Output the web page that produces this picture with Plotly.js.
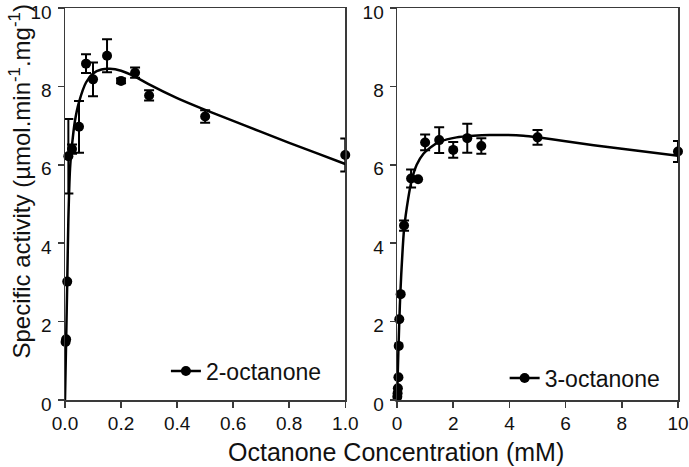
<!DOCTYPE html>
<html>
<head>
<meta charset="utf-8">
<script src="https://cdn.plot.ly/plotly-3.0.1.min.js"></script>
<style>html,body{margin:0;padding:0;background:#fff;}#chart{width:689px;height:467px;}</style>
</head>
<body>
<div id="chart"></div>
<script>
// ---- 2-octanone (left panel) measured points ----
const conc2 = [0.002, 0.004, 0.008, 0.012, 0.025, 0.05, 0.075, 0.1, 0.15, 0.2, 0.25, 0.3, 0.5, 1.0];
const act2  = [1.48, 1.55, 3.02, 6.22, 6.40, 6.97, 8.58, 8.18, 8.78, 8.14, 8.35, 7.77, 7.23, 6.25];
const err2  = [0, 0, 0, 0.95, 0.12, 0.66, 0.24, 0.43, 0.42, 0.06, 0.13, 0.13, 0.16, 0.42];
// fitted curve
const fit2x = [0, 0.004, 0.008, 0.012, 0.018, 0.025, 0.035, 0.05, 0.075, 0.1, 0.13, 0.16, 0.2, 0.25, 0.3, 0.4, 0.5, 0.6, 0.7, 0.8, 0.9, 1.0];
const fit2y = [0, 1.5, 3.0, 4.6, 5.9, 6.5, 7.1, 7.6, 8.1, 8.33, 8.43, 8.45, 8.4, 8.25, 8.05, 7.7, 7.4, 7.12, 6.84, 6.56, 6.29, 6.02];

// ---- 3-octanone (right panel) measured points ----
const conc3 = [0.01, 0.02, 0.03, 0.05, 0.06, 0.08, 0.13, 0.25, 0.5, 0.75, 1, 1.5, 2, 2.5, 3, 5, 10];
const act3  = [0.08, 0.17, 0.3, 0.58, 1.38, 2.06, 2.7, 4.45, 5.65, 5.63, 6.57, 6.63, 6.38, 6.68, 6.48, 6.70, 6.34];
const err3  = [0, 0, 0, 0, 0, 0, 0, 0.13, 0.23, 0, 0.2, 0.33, 0.2, 0.37, 0.2, 0.19, 0.27];
const fit3x = [0, 0.05, 0.1, 0.15, 0.25, 0.4, 0.52, 0.7, 0.94, 1.2, 1.53, 2.12, 2.72, 3.3, 3.9, 4.5, 5.0, 6.0, 7.0, 8.0, 9.0, 10.0];
const fit3y = [0, 1.3, 2.4, 3.2, 4.35, 5.15, 5.6, 6.0, 6.28, 6.45, 6.59, 6.70, 6.74, 6.76, 6.76, 6.74, 6.70, 6.6, 6.5, 6.41, 6.32, 6.23];

const names = ['2-octanone', '3-octanone'];
const xTicksLeft = [0, 0.2, 0.4, 0.6, 0.8, 1.0];
const xTicksRight = [0, 2, 4, 6, 8, 10];
const yTicks = [0, 2, 4, 6, 8, 10];

// separate each point with a gap so the legend shows line+marker but points are not joined
function gapped(arr) { const out = []; arr.forEach((v, i) => { if (i) out.push(null); out.push(v); }); return out; }
function errs(arr) { return gapped(arr.map(v => v === 0 ? NaN : v)); }

const FONT = 'Liberation Sans, Arial, sans-serif';
const AX = '#3a3a3a';

const traces = [
  { x: fit2x, y: fit2y, xaxis: 'x', yaxis: 'y', mode: 'lines', line: { color: '#000', width: 2.5, shape: 'spline', smoothing: 0.6 }, showlegend: false, hoverinfo: 'skip', cliponaxis: false },
  { x: gapped(conc2), y: gapped(act2), xaxis: 'x', yaxis: 'y', name: names[0], mode: 'lines+markers',
    line: { color: '#000', width: 2.5 }, marker: { color: '#000', size: 10 }, cliponaxis: false,
    error_y: { type: 'data', array: errs(err2), visible: true, color: '#000', thickness: 2, width: 5 }, legend: 'legend' },
  { x: fit3x, y: fit3y, xaxis: 'x2', yaxis: 'y2', mode: 'lines', line: { color: '#000', width: 2.5, shape: 'spline', smoothing: 0.6 }, showlegend: false, hoverinfo: 'skip', cliponaxis: false },
  { x: gapped(conc3), y: gapped(act3), xaxis: 'x2', yaxis: 'y2', name: names[1], mode: 'lines+markers',
    line: { color: '#000', width: 2.5 }, marker: { color: '#000', size: 10 }, cliponaxis: false,
    error_y: { type: 'data', array: errs(err3), visible: true, color: '#000', thickness: 2, width: 5 }, legend: 'legend2' }
];

const axBase = {
  showgrid: false, zeroline: false, showline: true, mirror: true, linecolor: AX, linewidth: 1.5,
  ticks: 'outside', ticklen: 6, tickwidth: 1.5, tickcolor: AX, ticklabeloverflow: 'allow',
  tickfont: { family: FONT, size: 19, color: '#111' }, fixedrange: true
};

const W = 689, H = 467, mL = 65, mR = 10.5, mT = 8, mB = 67;
const pw = W - mL - mR, ph = H - mT - mB;
const px = v => (v - mL) / pw;
const py = v => (H - mB - v) / ph;

const layout = {
  width: W, height: H,
  margin: { l: mL, r: mR, t: mT, b: mB, pad: 0 },
  paper_bgcolor: '#fff', plot_bgcolor: '#fff',
  font: { family: FONT, color: '#111' },
  xaxis: Object.assign({}, axBase, { domain: [0, px(345.5)], range: [0, 1], tickvals: xTicksLeft, tickformat: '.1f', anchor: 'y' }),
  yaxis: Object.assign({}, axBase, { domain: [0, 1], range: [0, 10], tickvals: yTicks, anchor: 'x', ticklabelshift: 4, ticklabelstandoff: 2 }),
  xaxis2: Object.assign({}, axBase, { domain: [px(397.3), 1], range: [0, 10], tickvals: xTicksRight, anchor: 'y2' }),
  yaxis2: Object.assign({}, axBase, { domain: [0, 1], range: [0, 10], tickvals: yTicks, anchor: 'x2', ticklabelshift: 4, ticklabelstandoff: 2 }),
  legend: { x: px(166), y: py(371), xanchor: 'left', yanchor: 'middle', bgcolor: 'rgba(0,0,0,0)', borderwidth: 0, font: { family: FONT, size: 23, color: '#111' } },
  legend2: { x: px(505), y: py(378), xanchor: 'left', yanchor: 'middle', bgcolor: 'rgba(0,0,0,0)', borderwidth: 0, font: { family: FONT, size: 23, color: '#111' } },
  annotations: [
    { text: 'Octanone Concentration (mM)', xref: 'paper', yref: 'paper', x: px(396.7), y: py(451.7), xanchor: 'center', yanchor: 'middle', showarrow: false, font: { family: FONT, size: 25, color: '#111' } },
    { text: 'Specific activity (µmol.min<sup>-1</sup>.mg<sup>-1</sup>)', xref: 'paper', yref: 'paper', x: px(20), y: py(181.5), xanchor: 'center', yanchor: 'middle', textangle: -90, showarrow: false, font: { family: FONT, size: 24, color: '#111' } }
  ]
};

Plotly.newPlot('chart', traces, layout, { displayModeBar: false, staticPlot: true });
</script>
</body>
</html>
